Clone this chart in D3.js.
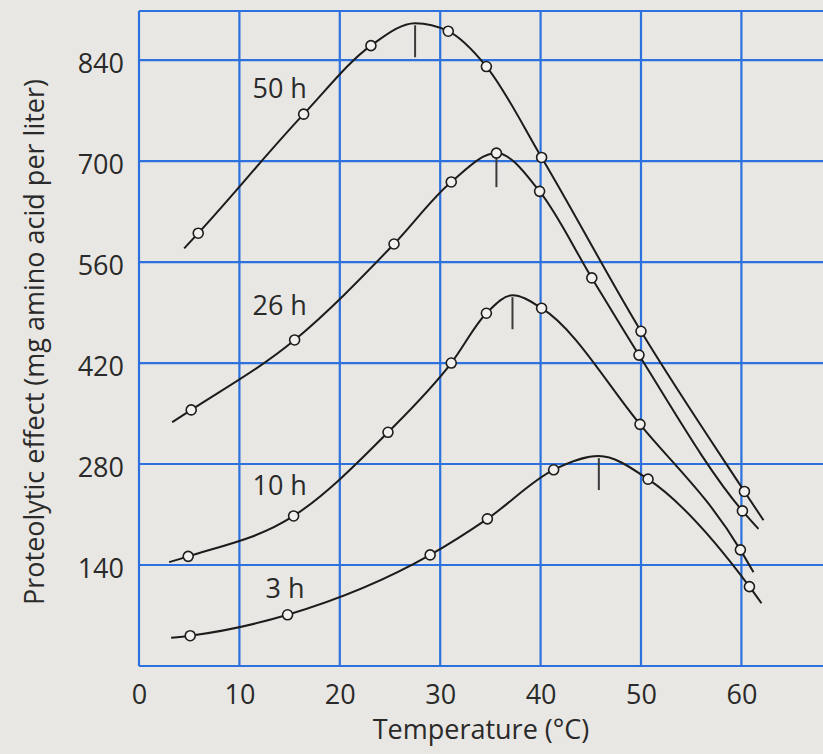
<!DOCTYPE html>
<html>
<head>
<meta charset="utf-8">
<script src="https://cdn.jsdelivr.net/npm/d3@7"></script>
<style>
  html, body { margin: 0; padding: 0; background: #e8e7e3; }
  svg { display: block; }
</style>
</head>
<body>
<svg id="chart" width="823" height="754"></svg>
<script>
// ---------- data ----------
const xTicks = [0, 10, 20, 30, 40, 50, 60];
const yTicks = [140, 280, 420, 560, 700, 840];
const xTitle = "Temperature (°C)";
const yTitle = "Proteolytic effect (mg amino acid per liter)";

const seriesNames = ["50 h", "26 h", "10 h", "3 h"];

// measured points (temperature °C, mg amino acid per liter)
const temps50 = [5.9, 16.4, 23.1, 30.8, 34.6, 40.1, 50.0, 60.3];
const vals50  = [600, 765, 860, 880, 831, 705, 464, 242];
const temps26 = [5.2, 15.5, 25.4, 31.1, 35.6, 39.9, 45.1, 49.8, 60.1];
const vals26  = [355, 452, 585, 671, 711, 658, 538, 431, 215];
const temps10 = [4.9, 15.4, 24.8, 31.1, 34.6, 40.1, 49.9, 59.9];
const vals10  = [152, 208, 324, 420, 489, 496, 335, 161];
const temps3  = [5.1, 14.8, 29.0, 34.7, 41.3, 50.7, 60.8];
const vals3   = [42, 71, 154, 204, 272, 259, 110];

// fitted curve: start and end of the drawn line, and the optimum (peak)
const curveStart = [[4.5, 579], [3.3, 338], [3.0, 144], [3.2, 39]];
const curveEnd   = [[62.2, 202], [61.7, 190], [61.2, 130], [62.0, 87]];
const optimum    = [[27.5, 891], [35.6, 711], [37.2, 514], [45.8, 291]];

// label anchor (temperature, value) for each curve label
const labelAnchor = [[11.3, 787], [11.3, 487], [11.3, 237], [12.6, 94]];

// ---------- drawing ----------
const W = 823, H = 754;
const svg = d3.select("#chart");
const gridColor = "#2c71dd";
const ink = "#1c1c1c";
const textColor = "#2a2a2a";
const font = "'Open Sans', 'Noto Sans', sans-serif";
const fs = 27;

const x = d3.scaleLinear().domain([0, 70]).range([139, 841.8]);
const y = d3.scaleLinear().domain([0, 908]).range([666, 11]);

svg.append("rect").attr("width", W).attr("height", H).attr("fill", "#e8e7e3");

// grid
const grid = svg.append("g");
grid.selectAll("line.v").data(d3.range(0, 71, 10)).join("line")
  .attr("x1", d => x(d)).attr("x2", d => x(d))
  .attr("y1", y(0)).attr("y2", y(908))
  .attr("stroke", gridColor).attr("stroke-width", 2.2);
grid.selectAll("line.h").data([0, ...yTicks, 908]).join("line")
  .attr("y1", d => y(d)).attr("y2", d => y(d))
  .attr("x1", x(0)).attr("x2", x(70))
  .attr("stroke", gridColor).attr("stroke-width", 2.2);

// axes (labels only, using d3 axes)
const xAxis = svg.append("g").attr("transform", `translate(0,${y(0)})`)
  .call(d3.axisBottom(x).tickValues(xTicks).tickSize(0));
const yAxis = svg.append("g").attr("transform", `translate(${x(0)},0)`)
  .call(d3.axisLeft(y).tickValues(yTicks).tickSize(0).tickPadding(15));
[xAxis, yAxis].forEach(a => {
  a.select(".domain").remove();
  a.selectAll("text").attr("font-family", font).attr("font-size", fs)
    .attr("fill", textColor);
});
yAxis.selectAll("text").attr("dy", "0.47em");
xAxis.selectAll("text").attr("y", 38).attr("dy", 0);

// titles
svg.append("text").attr("x", 481).attr("y", 739)
  .attr("text-anchor", "middle").attr("font-family", font).attr("font-size", fs)
  .attr("fill", textColor).text(xTitle);
svg.append("text")
  .attr("transform", `translate(44,${342}) rotate(-90)`)
  .attr("text-anchor", "middle").attr("font-family", font).attr("font-size", fs)
  .attr("fill", textColor).text(yTitle);

// series
const pointSets = [
  d3.zip(temps50, vals50), d3.zip(temps26, vals26),
  d3.zip(temps10, vals10), d3.zip(temps3, vals3)
];
const line = d3.line().x(d => x(d[0])).y(d => y(d[1])).curve(d3.curveMonotoneX);

pointSets.forEach((pts, i) => {
  const all = [curveStart[i], ...pts, curveEnd[i]];
  if (!pts.some(p => p[0] === optimum[i][0])) all.push(optimum[i]);
  all.sort((a, b) => a[0] - b[0]);
  const g = svg.append("g");
  g.append("path").datum(all).attr("d", line)
    .attr("fill", "none").attr("stroke", ink).attr("stroke-width", 2);
  // optimum tick
  g.append("line")
    .attr("x1", x(optimum[i][0])).attr("x2", x(optimum[i][0]))
    .attr("y1", y(optimum[i][1]) + 2).attr("y2", y(optimum[i][1]) + 34)
    .attr("stroke", "#3a3a3a").attr("stroke-width", 2);
  g.selectAll("circle").data(pts).join("circle")
    .attr("cx", d => x(d[0])).attr("cy", d => y(d[1])).attr("r", 5)
    .attr("fill", "#f2f1ed").attr("stroke", ink).attr("stroke-width", 1.6);
  g.append("text")
    .attr("x", x(labelAnchor[i][0])).attr("y", y(labelAnchor[i][1]))
    .attr("font-family", font).attr("font-size", fs).attr("fill", textColor)
    .text(seriesNames[i]);
});
</script>
</body>
</html>
